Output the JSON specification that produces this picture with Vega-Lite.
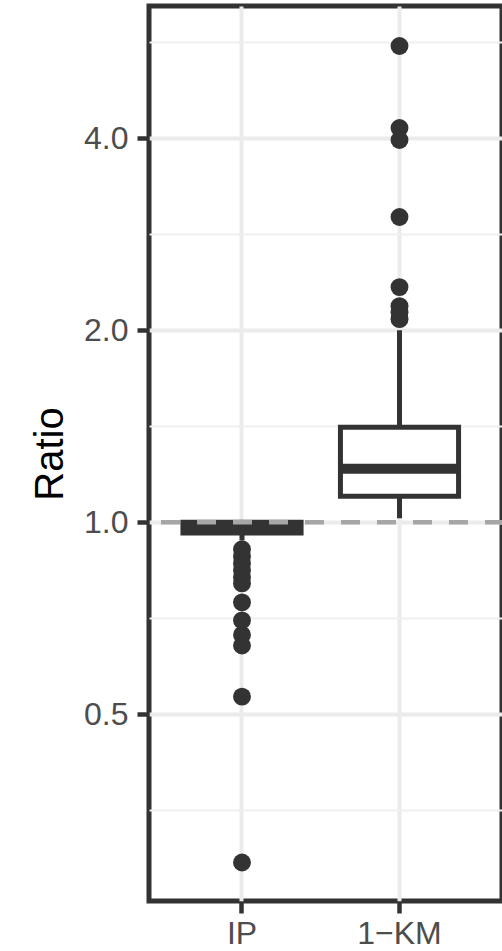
{
  "$schema": "https://vega.github.io/schema/vega-lite/v6.json",
  "autosize": {"type": "none"},
  "padding": {"left": 149, "top": 6, "right": 0, "bottom": 50},
  "width": 353,
  "height": 895,
  "background": "white",
  "config": {
    "view": {"stroke": "#333333", "strokeWidth": 5, "fill": "white"},
    "font": "Liberation Sans"
  },
  "datasets": {
    "boxes": [
      {"method": "IP", "lower": 0.937, "q1": 0.962, "median": 0.982, "q3": 1.0, "upper": 1.0},
      {"method": "1−KM", "lower": 1.015, "q1": 1.098, "median": 1.213, "q3": 1.409, "upper": 2.0}
    ],
    "outliers": [
      {"method": "IP", "ratio": 0.907},
      {"method": "IP", "ratio": 0.884},
      {"method": "IP", "ratio": 0.862},
      {"method": "IP", "ratio": 0.841},
      {"method": "IP", "ratio": 0.82},
      {"method": "IP", "ratio": 0.802},
      {"method": "IP", "ratio": 0.749},
      {"method": "IP", "ratio": 0.702},
      {"method": "IP", "ratio": 0.666},
      {"method": "IP", "ratio": 0.641},
      {"method": "IP", "ratio": 0.533},
      {"method": "IP", "ratio": 0.293},
      {"method": "1−KM", "ratio": 5.576},
      {"method": "1−KM", "ratio": 4.147},
      {"method": "1−KM", "ratio": 3.972},
      {"method": "1−KM", "ratio": 3.008},
      {"method": "1−KM", "ratio": 2.336},
      {"method": "1−KM", "ratio": 2.181},
      {"method": "1−KM", "ratio": 2.134},
      {"method": "1−KM", "ratio": 2.081}
    ],
    "ref": [{"ratio": 1.0}]
  },
  "encoding": {
    "x": {
      "field": "method", "type": "nominal",
      "scale": {"type": "band", "domain": ["IP", "1−KM"], "paddingInner": 0, "paddingOuter": 0.1206, "align": 0.375, "round": false},
      "axis": {
        "title": null, "orient": "bottom", "domain": false,
        "labelFontSize": 32, "labelColor": "#4D4D4D", "labelAngle": 0, "labelPadding": 5,
        "ticks": true, "tickSize": 12, "tickWidth": 4.5, "tickColor": "#333333", "bandPosition": 0.5,
        "grid": true, "gridColor": "#EBEBEB", "gridWidth": 4
      }
    }
  },
  "layer": [
    {
      "data": {"name": "boxes"},
      "mark": {"type": "rule", "color": "#333333", "strokeWidth": 5},
      "encoding": {
        "y": {
          "field": "lower", "type": "quantitative",
          "scale": {"type": "log", "domain": [0.255, 6.441], "nice": false, "zero": false},
          "axis": {
            "orient": "left", "values": [0.5, 1, 2, 4], "format": ".1f",
            "title": "Ratio", "titleFontSize": 40, "titleColor": "#000000", "titleFontWeight": "normal", "titlePadding": 13,
            "labelFontSize": 32, "labelColor": "#4D4D4D", "labelPadding": 9,
            "ticks": true, "tickSize": 12, "tickWidth": 4.5, "tickColor": "#333333",
            "domain": false,
            "grid": true, "gridColor": "#EBEBEB", "gridWidth": 4
          }
        },
        "y2": {"field": "upper"}
      }
    },
    {
      "data": {"name": "ref"},
      "mark": {"type": "rule", "opacity": 0},
      "encoding": {
        "x": null,
        "y": {
          "field": "ratio", "type": "quantitative",
          "axis": {
            "orient": "right", "values": [0.35355, 0.70711, 1.41421, 2.82843, 5.65685],
            "labels": false, "ticks": false, "domain": false, "title": null,
            "grid": true, "gridColor": "#F0F0F0", "gridWidth": 2, "zindex": 0
          }
        }
      }
    },
    {
      "data": {"name": "boxes"},
      "mark": {"type": "bar", "width": {"band": 0.75}, "fill": "white", "stroke": "#333333", "strokeWidth": 5},
      "encoding": {
        "y": {"field": "q1", "type": "quantitative", "axis": null},
        "y2": {"field": "q3"}
      }
    },
    {
      "data": {"name": "boxes"},
      "mark": {"type": "tick", "orient": "horizontal", "color": "#333333", "size": 118, "thickness": 10, "opacity": 1},
      "encoding": {
        "y": {"field": "median", "type": "quantitative", "axis": null}
      }
    },
    {
      "data": {"name": "outliers"},
      "mark": {"type": "circle", "size": 320, "color": "#333333", "opacity": 1},
      "encoding": {
        "y": {"field": "ratio", "type": "quantitative", "axis": null}
      }
    },
    {
      "data": {"name": "ref"},
      "mark": {"type": "rule", "color": "#A6A6A6", "strokeWidth": 4.5, "strokeDash": [19, 17], "strokeDashOffset": 2},
      "encoding": {
        "x": null,
        "y": {"field": "ratio", "type": "quantitative", "axis": null}
      }
    }
  ]
}
